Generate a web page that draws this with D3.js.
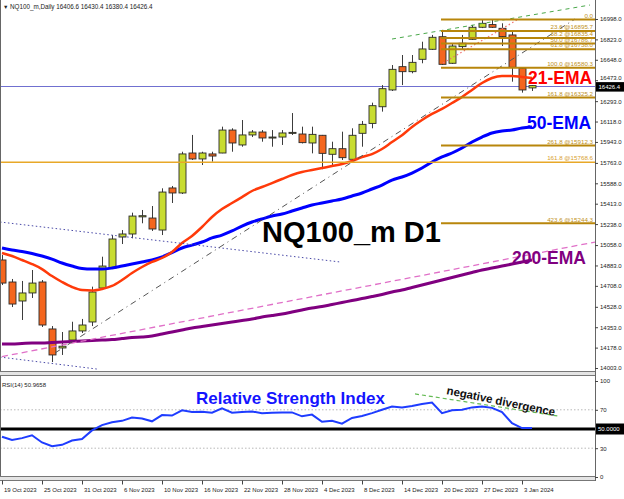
<!DOCTYPE html>
<html><head><meta charset="utf-8">
<script src="https://cdn.jsdelivr.net/npm/d3@7/dist/d3.min.js"></script>
<style>body{margin:0;background:#fff}svg{display:block}text{font-family:"Liberation Sans",Arial,sans-serif}</style>
</head><body><svg id="c" width="624" height="499"></svg>
<script>
// ---------- DATA ----------
const dates = ["19 Oct 2023","20 Oct 2023","23 Oct 2023","24 Oct 2023","25 Oct 2023","26 Oct 2023","27 Oct 2023","30 Oct 2023","31 Oct 2023",
"1 Nov 2023","2 Nov 2023","3 Nov 2023","6 Nov 2023","7 Nov 2023","8 Nov 2023","9 Nov 2023","10 Nov 2023","13 Nov 2023","14 Nov 2023","15 Nov 2023","16 Nov 2023","17 Nov 2023","20 Nov 2023","21 Nov 2023","22 Nov 2023","23 Nov 2023","24 Nov 2023","27 Nov 2023","28 Nov 2023","29 Nov 2023","30 Nov 2023",
"1 Dec 2023","4 Dec 2023","5 Dec 2023","6 Dec 2023","7 Dec 2023","8 Dec 2023","11 Dec 2023","12 Dec 2023","13 Dec 2023","14 Dec 2023","15 Dec 2023","18 Dec 2023","19 Dec 2023","20 Dec 2023","21 Dec 2023","22 Dec 2023","26 Dec 2023","27 Dec 2023","28 Dec 2023","29 Dec 2023",
"2 Jan 2024","3 Jan 2024","4 Jan 2024"];
const open  = [14930,14741,14578,14647,14741,14338,14175,14243,14321,14398,14689,14861,15127,15153,15300,15290,15187,15548,15505,15848,15797,15840,15848,16045,15917,16003,16028,15977,15985,16020,16011,15934,16000,15837,15885,15794,16017,16102,16245,16389,16589,16546,16652,16738,16846,16618,16761,16824,16927,16950,16918,16861,16575,16406.6];
const high  = [14973,14767,14750,14844,14758,14363,14312,14400,14424,14701,14958,15144,15187,15336,15359,15393,15545,15565,15859,16003,15859,15859,16074,16060,16131,16045,16045,16045,16045,16191,16074,16074,16003,15945,16031,16060,16123,16280,16431,16603,16689,16689,16803,16861,16904,16790,16861,16947,16990,16990,16961,16890,16580,16430.4];
const low   = [14715,14526,14415,14604,14355,14054,14115,14226,14303,14363,14672,14858,15067,15116,15245,15179,15144,15419,15496,15788,15745,15774,15846,15859,15902,15985,15945,15902,15917,16003,15930,15845,15709,15745,15788,15788,15902,16060,16203,16380,16431,16532,16618,16732,16603,16612,16732,16818,16920,16921,16766,16460,16366,16380.4];
const close = [14732,14552,14647,14732,14372,14115,14190,14321,14372,14655,14878,15110,15153,15307,15310,15196,15513,15505,15840,15797,15848,15822,16045,15934,16003,16028,15977,15985,16020,16025,15937,16008,15845,15885,15808,16000,16094,16254,16400,16566,16546,16626,16741,16841,16609,16766,16790,16927,16961,16927,16847,16583,16389,16426.4];
const ema21 = [14990,14964,14930,14895,14852,14792,14741,14698,14672,14668,14681,14707,14758,14818,14870,14913,14947,14998,15076,15136,15213,15299,15367,15419,15470,15522,15556,15590,15625,15659,15685,15702,15719,15736,15754,15779,15814,15839,15882,15942,16000,16071,16131,16183,16226,16277,16329,16389,16449,16492,16509,16509,16500,16492];
const ema50 = [15033,15016,15003,14986,14964,14938,14904,14878,14857,14852,14852,14861,14878,14895,14913,14930,14956,14994,15033,15058,15084,15119,15144,15179,15221,15256,15282,15307,15324,15350,15376,15402,15419,15436,15453,15479,15505,15539,15573,15616,15642,15676,15719,15771,15814,15848,15891,15942,15985,16020,16037,16045,16062,16071];
const ema200 = [14209,14209,14213,14217,14217,14222,14226,14230,14235,14239,14243,14247,14256,14265,14269,14277,14295,14312,14329,14346,14359,14372,14385,14398,14411,14423,14441,14453,14466,14483,14501,14518,14531,14548,14565,14582,14599,14616,14634,14655,14672,14694,14715,14737,14758,14780,14801,14822,14844,14861,14878,14895,14913,14930];
const rsi = [42,38.5,40.5,43.5,36,32,33.5,38,39.5,48.5,54,57,58.5,62,61,58,64.5,64,69.5,67.8,68,67,71.5,67,67.8,68.2,66.5,67,67.3,67.3,63.2,65,57.5,58.5,55.5,61.5,63.5,66.5,70,73.5,72.5,74,76,77.5,66.5,69.5,70,72.5,73.5,72,67.5,56,51,50.9658];

const priceTicks = [16998,16823,16648,16473,16293,16118,15943,15763,15588,15413,15238,15058,14883,14708,14528,14353,14178,14003];
const xTickIdx = [0,4,8,12,16,20,24,28,32,36,40,44,48,52];
const rsiTicks = [100,70,30,0];

const fibLevels = ["0.0","23.6","38.2","50.0","61.8","100.0","161.8","261.8","423.6"];
const fibPrices = [16993.1,16895.7,16835.4,16786.7,16738.0,16580.3,16325.2,15912.3,15244.3];
const fibStartIdx = 44;
const fib2Level = "161.8", fib2Price = 15768.6;

const lastPrice = 16426.4;
const header = "NQ100_m,Daily  16406.6 16430.4 16380.4 16426.4";
const rsiHeader = "RSI(14) 50.9658";

// trend lines [index, price]
const trendGray  = [[5.3,14132],[57.3,16998]];
const trendPink  = [[0,14101],[59.3,15084]];
const channelUp  = [[-0.2,15256],[33.8,14913]];
const channelLo  = [[-0.2,14097],[9.5,13994]];
const trendGreen = [[39,16826],[58.8,17118]];
const trendRed   = [[44.1,16620],[51.5,16989]];
const rsiDiv     = [[41.3,86.5],[55.6,63.5]];

// ---------- LAYOUT ----------
const svg = d3.select("#c");
const R = 595;
const x = d3.scaleLinear().domain([0,59.3]).range([2,R]);
const y = d3.scaleLinear().domain([13977.3,17161]).range([371,0]);
const yr = d3.scaleLinear().domain([0,100]).range([477,381]);
const cx = i => Math.round(x(i)) + 0.5;

const defs = svg.append("defs");
defs.append("clipPath").attr("id","cm").append("rect").attr("x",1).attr("y",0).attr("width",R-1).attr("height",371);
defs.append("clipPath").attr("id","cr").append("rect").attr("x",1).attr("y",377).attr("width",R-1).attr("height",99);

// frame
svg.append("rect").attr("width",624).attr("height",499).attr("fill","#fff");
svg.append("line").attr("x1",0.5).attr("x2",0.5).attr("y1",0).attr("y2",481).attr("stroke","#666");
svg.append("rect").attr("x",0).attr("y",371).attr("width",R).attr("height",5).attr("fill","#e4e4e4");
svg.append("line").attr("x1",0).attr("x2",R).attr("y1",371.5).attr("y2",371.5).attr("stroke","#777");
svg.append("line").attr("x1",0).attr("x2",R).attr("y1",375.5).attr("y2",375.5).attr("stroke","#777");
svg.append("rect").attr("x",0).attr("y",476).attr("width",R).attr("height",4).attr("fill","#e4e4e4");
svg.append("line").attr("x1",0).attr("x2",R).attr("y1",476.5).attr("y2",476.5).attr("stroke","#777");
svg.append("line").attr("x1",0).attr("x2",R).attr("y1",480.5).attr("y2",480.5).attr("stroke","#777");
svg.append("line").attr("x1",R+0.5).attr("x2",R+0.5).attr("y1",0).attr("y2",481).attr("stroke","#666");

const gm = svg.append("g").attr("clip-path","url(#cm)");

// current price line
gm.append("line").attr("x1",0).attr("x2",R).attr("y1",Math.round(y(lastPrice))+0.5).attr("y2",Math.round(y(lastPrice))+0.5)
  .attr("stroke","#7070d0").attr("stroke-width",1);

// candles
const idx = d3.range(open.length);
const cg = gm.append("g");
cg.selectAll("line.w").data(idx).join("line")
  .attr("x1",cx).attr("x2",cx).attr("y1",i=>y(high[i])).attr("y2",i=>y(low[i]))
  .attr("stroke","#3c3c3c").attr("stroke-width",1);
cg.selectAll("rect.b").data(idx).join("rect")
  .attr("x",i=>cx(i)-3.5).attr("width",7)
  .attr("y",i=>y(Math.max(open[i],close[i])))
  .attr("height",i=>Math.max(1,Math.abs(y(open[i])-y(close[i]))))
  .attr("fill",i=>close[i]>=open[i]?"#c8dc30":"#f4661e")
  .attr("stroke","#2a2a2a").attr("stroke-width",0.9);

// EMAs
const ln = d3.line().x((d,i)=>x(i)).y(d=>y(d)).curve(d3.curveMonotoneX);
gm.append("path").attr("d",ln(ema200)).attr("fill","none").attr("stroke","#800080").attr("stroke-width",3);
gm.append("path").attr("d",ln(ema50)).attr("fill","none").attr("stroke","#0000ff").attr("stroke-width",3);
gm.append("path").attr("d",ln(ema21)).attr("fill","none").attr("stroke","#ff3a0a").attr("stroke-width",2.5);

// trend lines
let gr = null;
const seg = (g,p,col,dash,w) => g.append("line")
  .attr("x1",x(p[0][0])).attr("y1",(g===gr?yr:y)(p[0][1]))
  .attr("x2",x(p[1][0])).attr("y2",(g===gr?yr:y)(p[1][1]))
  .attr("stroke",col).attr("stroke-width",w).attr("stroke-dasharray",dash);
seg(gm,channelUp,"#4a4aa8","1.5,2.5",1);
seg(gm,channelLo,"#4a4aa8","1.5,2.5",1);
seg(gm,trendPink,"#e070c8","6,4",1.3);
seg(gm,trendGray,"#555","6,4,1,4",1);
seg(gm,trendGreen,"#4aa84a","4,4",1);
seg(gm,trendRed,"#f07070","1.5,2.5",1.2);

// fib lines
const fg = gm.append("g");
fg.append("line").attr("x1",0).attr("x2",R).attr("y1",y(fib2Price)).attr("y2",y(fib2Price))
  .attr("stroke","#e8a828").attr("stroke-width",1.6);
fibPrices.forEach((p,k)=>{
  fg.append("line").attr("x1",x(fibStartIdx)-1).attr("x2",R).attr("y1",y(p)).attr("y2",y(p))
    .attr("stroke","#b8860b").attr("stroke-width",2);
});
const lg = svg.append("g").attr("font-size",6.2).attr("text-anchor","end");
fibPrices.forEach((p,k)=>{
  lg.append("text").attr("x",593).attr("y",y(p)-1.8).attr("fill","#c09020")
    .text(k===0?fibLevels[k]:fibLevels[k]+" @"+p.toFixed(1));
});
lg.append("text").attr("x",593).attr("y",y(fib2Price)-1.8).attr("fill","#d8a030").text(fib2Level+" @"+fib2Price.toFixed(1));

// header
svg.append("text").attr("x",3).attr("y",9).attr("font-size",5.5).attr("fill","#222").text("▼");
svg.append("text").attr("x",10).attr("y",9).attr("font-size",6.3).attr("fill","#222").text(header);

// big labels
svg.append("text").attr("x",262).attr("y",242).attr("font-size",29).attr("font-weight","bold").attr("fill","#000").text("NQ100_m D1");
svg.append("text").attr("x",528).attr("y",84).attr("font-size",17.5).attr("font-weight","bold").attr("fill","#ff0000").text("21-EMA");
svg.append("text").attr("x",527).attr("y",129).attr("font-size",17.5).attr("font-weight","bold").attr("fill","#0000ff").text("50-EMA");
svg.append("text").attr("x",512).attr("y",264).attr("font-size",17.5).attr("font-weight","bold").attr("fill","#800080").text("200-EMA");

// price axis
const ay = svg.append("g").attr("transform",`translate(${R},0)`)
  .call(d3.axisRight(y).tickValues(priceTicks).tickSize(3).tickPadding(2).tickFormat(d=>d.toFixed(1)));
ay.select(".domain").remove();
ay.selectAll("line").attr("stroke","#444");
ay.selectAll("text").attr("font-size",6).attr("fill","#222").attr("font-family","Liberation Sans, Arial, sans-serif");
ay.selectAll(".tick").filter(d=>d===16473).select("text").attr("dy","-0.05em");
// price box
const pb = svg.append("g").attr("transform",`translate(${R+1},${y(lastPrice)})`);
pb.append("rect").attr("x",0).attr("y",-3.5).attr("width",28).attr("height",9.5).attr("fill","#000");
pb.append("text").attr("x",2.5).attr("y",3.6).attr("font-size",6).attr("fill","#fff").text(lastPrice.toFixed(1));

// ---------- RSI ----------
gr = svg.append("g").attr("clip-path","url(#cr)");
[70,30].forEach(v=>gr.append("line").attr("x1",0).attr("x2",R).attr("y1",yr(v)).attr("y2",yr(v))
  .attr("stroke","#b8b8b8").attr("stroke-dasharray","1.5,2"));
gr.append("line").attr("x1",0).attr("x2",R).attr("y1",yr(50)).attr("y2",yr(50)).attr("stroke","#000").attr("stroke-width",3);
const lr = d3.line().x((d,i)=>x(i)).y(d=>yr(d));
gr.append("path").attr("d",lr(rsi)).attr("fill","none").attr("stroke","#1e3cff").attr("stroke-width",2);
seg(gr,rsiDiv,"#66bb55","4,3",1.2);
svg.append("text").attr("x",2).attr("y",387).attr("font-size",6).attr("fill","#222").text(rsiHeader);
svg.append("text").attr("x",196).attr("y",404).attr("font-size",17).attr("font-weight","bold").attr("fill","#1414ff").text("Relative Strength Index");
svg.append("text").attr("transform","translate(446,394) rotate(11.5)").attr("font-size",11.5).attr("font-weight","bold").attr("fill","#111").text("negative divergence");

const ar = svg.append("g").attr("transform",`translate(${R},0)`)
  .call(d3.axisRight(yr).tickValues(rsiTicks).tickSize(3).tickPadding(2).tickFormat(d3.format("d")));
ar.select(".domain").remove();
ar.selectAll("line").attr("stroke","#444");
ar.selectAll("text").attr("font-size",6).attr("fill","#222").attr("font-family","Liberation Sans, Arial, sans-serif");
const rb = svg.append("g").attr("transform",`translate(${R+1},${yr(50)})`);
rb.append("rect").attr("x",0).attr("y",-5.5).attr("width",28).attr("height",11).attr("fill","#000");
rb.append("text").attr("x",2).attr("y",2.2).attr("font-size",6).attr("fill","#fff").text("50.0000");

// ---------- X AXIS ----------
const ax = svg.append("g").attr("transform","translate(0,480.5)")
  .call(d3.axisBottom(x).tickValues(xTickIdx).tickSize(4).tickPadding(3).tickFormat(i=>dates[i]));
ax.select(".domain").remove();
ax.selectAll("line").attr("stroke","#444");
ax.selectAll("text").attr("text-anchor","start").attr("dx",1.5).attr("font-size",6).attr("fill","#222")
  .attr("font-family","Liberation Sans, Arial, sans-serif");
</script></body></html>
